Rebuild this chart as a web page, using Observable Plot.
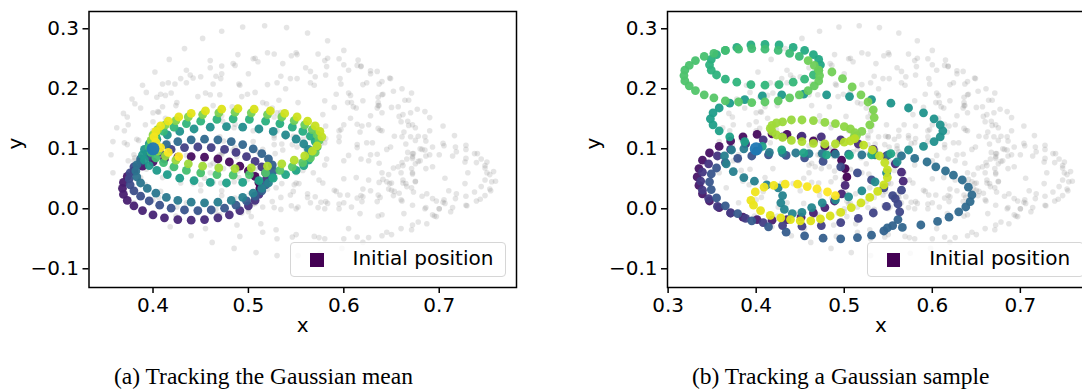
<!DOCTYPE html>
<html><head><meta charset="utf-8">
<script src="https://cdn.jsdelivr.net/npm/d3@7"></script>
<script src="https://cdn.jsdelivr.net/npm/@observablehq/plot@0.6"></script>
<style>
html,body{margin:0;padding:0;background:#fff;overflow:hidden}
#page{position:relative;width:1082px;height:390px;overflow:hidden;background:#fff}
.panel{position:absolute;top:0}
.legend{position:absolute;top:242px;height:35px;box-sizing:border-box;border:1px solid #d6d6d6;border-radius:4px;background:rgba(255,255,255,0.8);font-family:"DejaVu Sans";font-size:20px;color:#000}
.legend .sw{position:absolute;left:19px;top:10px;width:13.5px;height:13.5px;background:#440154}
.legend .lb{position:absolute;left:61.5px;top:5px;line-height:20px;white-space:nowrap}
.caption{position:absolute;top:365px;font-family:"Liberation Serif";font-size:23.5px;line-height:1;white-space:nowrap;transform:translateX(-50%);color:#000}
</style></head>
<body><div id="page"></div>
<script>
// ---- data ----
const xTicksMean = [0.4, 0.5, 0.6, 0.7];
const xTicksSample = [0.3, 0.4, 0.5, 0.6, 0.7];
const yTicks = [-0.1, 0.0, 0.1, 0.2, 0.3];
const initialPosition = [[0.4, 0.1]];
const legendLabel = "Initial position";
const captions = ["(a) Tracking the Gaussian mean", "(b) Tracking a Gaussian sample"];

// grey cloud of target positions (same in both panels)
const background = [
[.356,.090],[.358,.060],[.366,.035],[.380,.010],[.398,-.012],[.418,-.030],[.440,-.045],[.462,-.056],[.485,-.066],[.508,-.073],[.530,-.078],[.552,-.078],[.575,-.074],[.598,-.066],[.620,-.056],[.640,-.045],[.660,-.033],[.678,-.022],[.695,-.012],[.712,-.005],[.729,.005],[.743,.016],[.754,.030],[.759,.046],[.757,.062],[.750,.078],[.740,.092],[.728,.106],[.716,.122],[.704,.138],[.690,.152],[.677,.166],[.664,.181],[.652,.196],[.640,.212],[.628,.230],[.615,.248],[.600,.264],[.583,.280],[.562,.293],[.540,.302],[.517,.305],[.494,.303],[.472,.296],[.452,.284],[.433,.267],[.417,.249],[.402,.228],[.389,.206],[.378,.183],[.369,.159],[.362,.135],[.358,.112],
[.640,.160],[.636,.186],[.624,.210],[.605,.231],[.580,.247],[.551,.257],[.520,.260],[.489,.257],[.460,.247],[.435,.231],[.416,.210],[.404,.186],[.400,.160],[.404,.134],[.416,.110],[.435,.089],[.460,.073],[.489,.063],[.520,.060],[.551,.063],[.580,.073],[.605,.089],[.624,.110],[.636,.134],
[.690,.130],[.685,.162],[.671,.193],[.648,.218],[.618,.238],[.583,.251],[.545,.255],[.507,.251],[.472,.238],[.442,.218],[.419,.193],[.405,.162],[.400,.130],[.405,.098],[.419,.067],[.442,.042],[.472,.022],[.507,.009],[.545,.005],[.583,.009],[.618,.022],[.648,.042],[.671,.067],[.685,.098],
[.690,.090],[.686,.113],[.675,.135],[.658,.154],[.635,.168],[.608,.177],[.580,.180],[.552,.177],[.525,.168],[.502,.154],[.485,.135],[.474,.113],[.470,.090],[.474,.067],[.485,.045],[.502,.026],[.525,.012],[.552,.003],[.580,.000],[.608,.003],[.635,.012],[.658,.026],[.675,.045],[.686,.067],
[.675,.075],[.672,.092],[.665,.108],[.653,.121],[.638,.131],[.619,.138],[.600,.140],[.581,.138],[.562,.131],[.547,.121],[.535,.108],[.528,.092],[.525,.075],[.528,.058],[.535,.042],[.547,.029],[.562,.019],[.581,.012],[.600,.010],[.619,.012],[.638,.019],[.653,.029],[.665,.042],[.672,.058],
[.630,.110],[.626,.140],[.613,.168],[.592,.191],[.565,.210],[.534,.221],[.500,.225],[.466,.221],[.435,.210],[.408,.191],[.387,.168],[.374,.140],[.370,.110],[.374,.080],[.387,.052],[.408,.029],[.435,.010],[.466,-.001],[.500,-.005],[.534,-.001],[.565,.010],[.592,.029],[.613,.052],[.626,.080],
[.755,.045],[.753,.057],[.748,.068],[.739,.077],[.728,.084],[.714,.088],[.700,.090],[.686,.088],[.672,.084],[.661,.077],[.652,.068],[.647,.057],[.645,.045],[.647,.033],[.652,.022],[.661,.013],[.672,.006],[.686,.002],[.700,.000],[.714,.002],[.728,.006],[.739,.013],[.748,.022],[.753,.033],
[.750,.060],[.748,.072],[.744,.083],[.737,.092],[.728,.099],[.717,.103],[.705,.105],[.693,.103],[.682,.099],[.673,.092],[.666,.083],[.662,.072],[.660,.060],[.662,.048],[.666,.037],[.673,.028],[.682,.021],[.693,.017],[.705,.015],[.717,.017],[.728,.021],[.737,.028],[.744,.037],[.748,.048],
[.710,.030],[.706,.051],[.693,.070],[.672,.087],[.645,.099],[.614,.107],[.580,.110],[.546,.107],[.515,.099],[.488,.087],[.467,.070],[.454,.051],[.450,.030],[.454,.009],[.467,-.010],[.488,-.027],[.515,-.039],[.546,-.047],[.580,-.050],[.614,-.047],[.645,-.039],[.672,-.027],[.693,-.010],[.706,.009],
[.640,.190],[.637,.208],[.628,.225],[.614,.239],[.595,.250],[.573,.258],[.550,.260],[.527,.258],[.505,.250],[.486,.239],[.472,.225],[.463,.208],[.460,.190],[.463,.172],[.472,.155],[.486,.141],[.505,.130],[.527,.122],[.550,.120],[.573,.122],[.595,.130],[.614,.141],[.628,.155],[.637,.172],
[.680,.080],[.675,.114],[.660,.145],[.636,.172],[.605,.193],[.569,.206],[.530,.210],[.491,.206],[.455,.193],[.424,.172],[.400,.145],[.385,.114],[.380,.080],[.385,.046],[.400,.015],[.424,-.012],[.455,-.033],[.491,-.046],[.530,-.050],[.569,-.046],[.605,-.033],[.636,-.012],[.660,.015],[.675,.046],
[.530,.130],[.527,.153],[.519,.175],[.507,.194],[.490,.208],[.471,.217],[.450,.220],[.429,.217],[.410,.208],[.393,.194],[.381,.175],[.373,.153],[.370,.130],[.373,.107],[.381,.085],[.393,.066],[.410,.052],[.429,.043],[.450,.040],[.471,.043],[.490,.052],[.507,.066],[.519,.085],[.527,.107],
[.670,.120],[.667,.146],[.657,.170],[.641,.191],[.620,.207],[.596,.217],[.570,.220],[.544,.217],[.520,.207],[.499,.191],[.483,.170],[.473,.146],[.470,.120],[.473,.094],[.483,.070],[.499,.049],[.520,.033],[.544,.023],[.570,.020],[.596,.023],[.620,.033],[.641,.049],[.657,.070],[.667,.094],
[.680,.100],[.678,.121],[.672,.140],[.662,.157],[.650,.169],[.636,.177],[.620,.180],[.604,.177],[.590,.169],[.578,.157],[.568,.140],[.562,.121],[.560,.100],[.562,.079],[.568,.060],[.578,.043],[.590,.031],[.604,.023],[.620,.020],[.636,.023],[.650,.031],[.662,.043],[.672,.060],[.678,.079],
[.640,.060],[.637,.076],[.628,.090],[.614,.102],[.595,.112],[.573,.118],[.550,.120],[.527,.118],[.505,.112],[.486,.102],[.472,.090],[.463,.076],[.460,.060],[.463,.044],[.472,.030],[.486,.018],[.505,.008],[.527,.002],[.550,.000],[.573,.002],[.595,.008],[.614,.018],[.628,.030],[.637,.044],
[.610,.170],[.607,.189],[.597,.208],[.581,.223],[.560,.235],[.536,.242],[.510,.245],[.484,.242],[.460,.235],[.439,.223],[.423,.208],[.413,.189],[.410,.170],[.413,.151],[.423,.132],[.439,.117],[.460,.105],[.484,.098],[.510,.095],[.536,.098],[.560,.105],[.581,.117],[.597,.132],[.607,.151],
[.670,.160],[.668,.181],[.661,.200],[.649,.217],[.635,.229],[.618,.237],[.600,.240],[.582,.237],[.565,.229],[.551,.217],[.539,.200],[.532,.181],[.530,.160],[.532,.139],[.539,.120],[.551,.103],[.565,.091],[.582,.083],[.600,.080],[.618,.083],[.635,.091],[.649,.103],[.661,.120],[.668,.139],
[.730,.060],[.727,.078],[.718,.095],[.704,.109],[.685,.120],[.663,.128],[.640,.130],[.617,.128],[.595,.120],[.576,.109],[.562,.095],[.553,.078],[.550,.060],[.553,.042],[.562,.025],[.576,.011],[.595,.000],[.617,-.008],[.640,-.010],[.663,-.008],[.685,.000],[.704,.011],[.718,.025],[.727,.042],
[.560,.090],[.557,.116],[.548,.140],[.534,.161],[.515,.177],[.493,.187],[.470,.190],[.447,.187],[.425,.177],[.406,.161],[.392,.140],[.383,.116],[.380,.090],[.383,.064],[.392,.040],[.406,.019],[.425,.003],[.447,-.007],[.470,-.010],[.493,-.007],[.515,.003],[.534,.019],[.548,.040],[.557,.064],
[.700,.000],[.697,.013],[.687,.025],[.671,.035],[.650,.043],[.626,.048],[.600,.050],[.574,.048],[.550,.043],[.529,.035],[.513,.025],[.503,.013],[.500,.000],[.503,-.013],[.513,-.025],[.529,-.035],[.550,-.043],[.574,-.048],[.600,-.050],[.626,-.048],[.650,-.043],[.671,-.035],[.687,-.025],[.697,-.013]
];

// (a) tracked Gaussian mean, in time order
const trajectoryMean = [
[.512,.034],[.511,.044],[.507,.054],[.500,.063],[.491,.071],[.480,.078],[.468,.083],[.454,.086],[.440,.087],[.426,.086],[.412,.083],[.400,.078],[.389,.071],[.380,.063],[.373,.054],[.369,.044],[.368,.034],[.369,.024],[.373,.014],[.380,.005],[.389,-.003],[.400,-.010],[.412,-.015],[.426,-.018],[.440,-.019],[.454,-.018],[.468,-.015],[.480,-.010],[.491,-.003],[.500,.005],[.507,.014],[.511,.024],
[.519,.050],[.518,.060],[.514,.070],[.507,.079],[.498,.087],[.487,.094],[.475,.099],[.461,.102],[.447,.103],[.433,.102],[.419,.099],[.407,.094],[.396,.087],[.387,.079],[.380,.070],[.376,.060],[.375,.050],[.376,.040],[.380,.030],[.387,.021],[.396,.013],[.407,.006],[.419,.001],[.433,-.002],[.447,-.003],[.461,-.002],[.475,.001],[.487,.006],[.498,.013],[.507,.021],[.514,.030],[.518,.040],
[.526,.063],[.525,.073],[.521,.083],[.514,.092],[.505,.100],[.494,.107],[.482,.112],[.468,.115],[.454,.116],[.440,.115],[.426,.112],[.414,.107],[.403,.100],[.394,.092],[.387,.083],[.383,.073],[.382,.063],[.383,.053],[.387,.043],[.394,.034],[.403,.026],[.414,.019],[.426,.014],[.440,.011],[.454,.010],[.468,.011],[.482,.014],[.494,.019],[.505,.026],[.514,.034],[.521,.043],[.525,.053],
[.565,.090],[.563,.099],[.558,.108],[.550,.116],[.539,.123],[.526,.129],[.511,.133],[.494,.136],[.477,.137],[.460,.136],[.443,.133],[.428,.129],[.415,.123],[.404,.116],[.396,.108],[.391,.099],[.389,.090],[.391,.081],[.396,.072],[.404,.064],[.415,.057],[.428,.051],[.443,.047],[.460,.044],[.477,.043],[.494,.044],[.511,.047],[.526,.051],[.539,.057],[.550,.064],[.558,.072],[.563,.081],
[.572,.103],[.570,.112],[.565,.121],[.557,.129],[.546,.136],[.533,.142],[.518,.146],[.501,.149],[.484,.150],[.467,.149],[.450,.146],[.435,.142],[.422,.136],[.411,.129],[.403,.121],[.398,.112],[.396,.103],[.398,.094],[.403,.085],[.411,.077],[.422,.070],[.435,.064],[.450,.060],[.467,.057],[.484,.056],[.501,.057],[.518,.060],[.533,.064],[.546,.070],[.557,.077],[.565,.085],[.570,.094],
[.574,.114],[.572,.123],[.567,.132],[.559,.140],[.548,.147],[.535,.153],[.520,.157],[.503,.160],[.486,.161],[.469,.160],[.452,.157],[.437,.153],[.424,.147],[.413,.140],[.405,.132],[.400,.123],[.398,.114],[.400,.105],[.405,.096],[.413,.088],[.424,.081],[.437,.075],[.452,.071],[.469,.068],[.486,.067],[.503,.068],[.520,.071],[.535,.075],[.548,.081],[.559,.088],[.567,.096],[.572,.105],
[.577,.120],[.575,.129],[.570,.138],[.562,.146],[.551,.153],[.538,.159],[.523,.163],[.506,.166],[.489,.167],[.472,.166],[.455,.163],[.440,.159],[.427,.153],[.416,.146],[.408,.138],[.403,.129],[.401,.120],[.403,.111],[.408,.102],[.416,.094],[.427,.087]
];

// (b) tracked Gaussian sample, in time order
const trajectorySample = [
[.503,.053],[.501,.067],[.497,.081],[.489,.093],[.478,.104],[.465,.113],[.451,.120],[.435,.124],[.418,.125],[.401,.124],[.385,.120],[.371,.113],[.358,.104],[.347,.093],[.339,.081],[.335,.067],[.333,.053],[.335,.039],[.339,.025],[.347,.013],[.358,.002],[.371,-.007],[.385,-.014],[.401,-.018],[.418,-.019],[.435,-.018],[.451,-.014],[.465,-.007],[.478,.002],[.489,.013],[.497,.025],[.501,.039],
[.567,.046],[.565,.061],[.558,.075],[.548,.088],[.533,.099],[.516,.108],[.496,.115],[.474,.120],[.452,.121],[.430,.120],[.408,.115],[.388,.108],[.371,.099],[.356,.088],[.346,.075],[.339,.061],[.337,.046],[.339,.031],[.346,.017],[.356,.004],[.371,-.007],[.388,-.016],[.408,-.023],[.430,-.028],[.452,-.029],[.474,-.028],[.496,-.023],[.516,-.016],[.533,-.007],[.548,.004],[.558,.017],[.565,.031],
[.563,-.005],[.561,.008],[.555,.022],[.545,.035],[.531,.048],[.515,.060],[.496,.070],[.476,.079],[.455,.085],[.434,.089],[.414,.090],[.395,.088],[.379,.084],[.365,.077],[.355,.068],[.349,.058],[.347,.045],[.349,.032],[.355,.018],[.365,.005],[.379,-.008],[.395,-.020],[.414,-.030],[.434,-.039],[.455,-.045],[.476,-.049],[.496,-.050],[.515,-.048],[.531,-.044],[.545,-.037],[.555,-.028],[.561,-.018],
[.549,-.032],[.566,-.031],[.587,-.027],[.606,-.021],[.619,-.014],[.630,-.005],[.638,.003],[.643,.012],[.645,.023],[.641,.036],[.634,.048],[.624,.056],[.615,.063],[.604,.070],[.594,.078],[.580,.084],[.565,.088],[.550,.090],[.535,.090],[.520,.090],[.505,.091],[.490,.091],[.475,.092],[.460,.092],[.445,.093],[.430,.093],[.415,.094],[.400,.096],[.386,.100],[.372,.098],[.364,.088],[.366,.075],[.374,.062],[.386,.052],[.398,.046],[.412,.040],[.425,.035],[.430,.022],[.428,.010],[.432,-.001],[.441,-.008],[.452,-.006],[.463,.002],[.475,.010],[.490,.015],[.505,.020],[.520,.030],[.535,.045],[.548,.060],[.560,.078],
[.573,.098],[.590,.104],[.602,.112],[.609,.120],[.612,.130],[.609,.140],[.602,.150],[.590,.160],[.573,.168],[.553,.176],[.531,.182],[.506,.187],[.480,.190],[.454,.191],[.429,.190],[.407,.188],[.387,.182],[.370,.176],[.358,.168],[.351,.160],[.348,.150],[.351,.140],[.358,.130],[.370,.120],[.387,.112],[.407,.104],[.429,.098],[.454,.093],[.480,.090],[.506,.089],[.531,.090],[.553,.092],
[.473,.240],[.471,.249],[.465,.257],[.455,.264],[.442,.269],[.426,.273],[.410,.274],[.394,.273],[.378,.269],[.365,.264],[.355,.257],[.349,.249],[.347,.240],[.349,.231],[.355,.223],[.365,.216],[.378,.211],[.394,.207],[.410,.206],[.426,.207],[.442,.211],[.455,.216],[.465,.223],[.471,.231],
[.449,.254],[.438,.259],[.425,.264],[.410,.266],[.395,.267],[.380,.266],[.365,.264],[.352,.259],[.341,.254],[.331,.247],[.324,.239],[.319,.231],[.318,.222],[.319,.213],[.324,.205],[.331,.197],[.341,.190],[.352,.185],[.365,.180],[.380,.178],[.395,.177],[.410,.178],[.425,.180],[.438,.185],[.449,.190],[.459,.197],[.466,.205],[.471,.213],[.472,.222],[.471,.231],[.466,.239],[.459,.247],
[.486,.228],[.498,.217],[.509,.203],[.519,.190],[.527,.178],[.533,.165],[.534,.152],[.529,.140],[.520,.129],[.511,.119],
[.514,.122],[.512,.127],[.507,.133],[.500,.137],[.490,.142],[.478,.144],[.465,.147],[.452,.148],[.440,.148],[.430,.145],[.423,.143],[.418,.139],[.416,.134],[.418,.129],[.423,.123],[.430,.119],[.440,.114],[.452,.112],[.465,.109],[.478,.108],[.490,.108],[.500,.111],[.507,.113],[.512,.117],
[.522,.106],[.532,.098],[.540,.088],[.546,.077],[.549,.065],[.549,.052],[.545,.040],[.538,.029],[.529,.019],[.519,.010],[.508,.002],[.496,-.006],
[.484,-.012],[.473,-.017],[.462,-.020],[.450,-.020],[.439,-.018],[.428,-.015],[.416,-.011],[.405,-.003],[.397,.006],[.394,.014],[.399,.028],[.409,.036],[.420,.039],[.433,.041],[.447,.041],[.458,.037],[.469,.033],[.481,.028],[.490,.022]
];

// ---- drawing ----
const fmt = d3.format(".1f");
function panel(traj, xDomain, xTicks, width, marginLeft, marginRight) {
  return Plot.plot({
    width, height: 345, marginLeft, marginRight, marginTop: 11, marginBottom: 58,
    style: {fontFamily: "DejaVu Sans", fontSize: "20px", color: "#000", background: "transparent", overflow: "visible"},
    x: {domain: xDomain},
    y: {domain: [-0.1312, 0.3288]},
    color: {type: "linear", scheme: "viridis", domain: [0, traj.length - 1]},
    marks: [
      Plot.dot(background, {x: d => d[0], y: d => d[1], r: 2.8, fill: "#7f7f7f", fillOpacity: 0.2}),
      Plot.dot(traj, {x: d => d[0], y: d => d[1], r: 4.4, fill: (d, i) => i, fillOpacity: 0.95}),
      Plot.dot(initialPosition, {x: d => d[0], y: d => d[1], r: 6.5, fill: "#1f77b4", fillOpacity: 0.95}),
      Plot.frame({stroke: "#000", strokeWidth: 1.5}),
      Plot.axisX({ticks: xTicks, tickFormat: fmt, tickSize: 6, tickPadding: 4, label: null, strokeWidth: 1.5, fontSize: 20}),
      Plot.axisY({ticks: yTicks, tickFormat: fmt, tickSize: 6, tickPadding: 4, label: null, strokeWidth: 1.5, fontSize: 20}),
      Plot.text(["x"], {frameAnchor: "bottom", dy: 44, text: d => d, fontSize: 20}),
      Plot.text(["y"], {frameAnchor: "left", dx: -73.6, rotate: -90, text: d => d, fontSize: 20})
    ]
  });
}

const page = document.getElementById("page");
function place(el, left) { el.classList.add("panel"); el.style.left = left + "px"; page.appendChild(el); }
place(panel(trajectoryMean, [0.3329, 0.7810], xTicksMean, 540, 88.5, 24), 0);
place(panel(trajectorySample, [0.2993, 0.7842], xTicksSample, 560, 107, 26), 560);

function legend(left, width) {
  const box = document.createElement("div");
  box.className = "legend";
  box.style.left = left + "px";
  box.style.width = width + "px";
  box.innerHTML = '<div class="sw"></div><div class="lb"></div>';
  box.querySelector(".lb").textContent = legendLabel;
  page.appendChild(box);
}
legend(290, 215.5);
legend(866.7, 217);

function caption(text, center) {
  const c = document.createElement("div");
  c.className = "caption";
  c.style.left = center + "px";
  c.textContent = text;
  page.appendChild(c);
}
caption(captions[0], 263.5);
caption(captions[1], 840.7);
</script>
</body></html>
